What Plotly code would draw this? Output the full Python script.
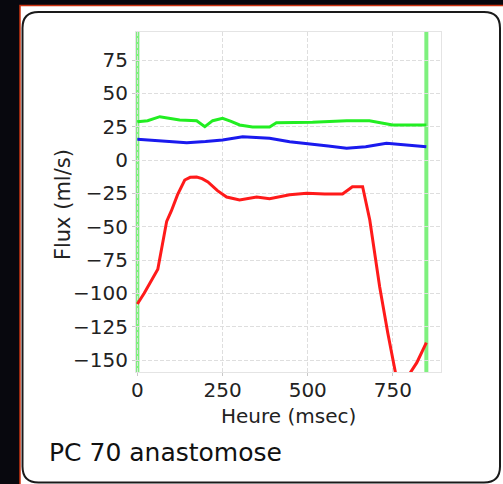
import plotly.graph_objects as go

# ---- data ----
red_t = [0, 20, 60, 86, 100, 118, 139, 155, 174, 190, 207, 235, 262, 300, 350, 388, 447, 497, 550, 602, 631, 661, 682, 711, 735, 760, 792, 820, 848]
red_flux = [-108, -100, -82, -46, -38, -26, -15, -13, -12.8, -14, -16.5, -23, -27.8, -30, -27.8, -29, -26, -25, -25.5, -25.5, -20, -20, -45, -95, -130, -163, -163, -152, -137]

green_t = [0, 30, 66, 100, 124, 174, 198, 221, 250, 275, 300, 338, 388, 408, 447, 514, 614, 681, 749, 848]
green_flux = [28.7, 29.5, 32.5, 31, 30, 29.5, 25, 29.5, 31.3, 29, 26.3, 24.8, 24.8, 28, 28, 28.3, 29.5, 29.5, 26.3, 26.3]

blue_t = [0, 60, 145, 200, 250, 309, 350, 388, 447, 514, 560, 614, 670, 731, 790, 848]
blue_flux = [15.5, 14.5, 13, 13.8, 15, 17.5, 17, 16.3, 13.7, 12, 10.5, 8.8, 10, 12.5, 11, 10]

cycle_markers_t = [0, 848]

x_ticks = [0, 250, 500, 750]
y_ticks = [75, 50, 25, 0, -25, -50, -75, -100, -125, -150]

x_title = "Heure (msec)"
y_title = "Flux (ml/s)"
caption = "PC 70 anastomose"

# ---- figure ----
W, H = 503, 484
ML, MR, MT, MB = 136, 61.5, 32, 112
PW = W - ML - MR
PH = H - MT - MB

def px_x(px):
    return (px - ML) / PW

def px_y(py):
    return (H - MB - py) / PH

fig = go.Figure()

fig.add_trace(go.Scatter(x=green_t, y=green_flux, mode="lines",
                         line=dict(color="#22ee22", width=3), showlegend=False))
fig.add_trace(go.Scatter(x=blue_t, y=blue_flux, mode="lines",
                         line=dict(color="#1a1aee", width=3), showlegend=False))
fig.add_trace(go.Scatter(x=red_t, y=red_flux, mode="lines",
                         line=dict(color="#ff1a1a", width=3), showlegend=False))

# card background: white rect with red edge, then rounded white card with dark border
L0, R0, T0, B0 = 20 - ML, 505 - ML, (H - MB) - 5.5, (H - MB) - 488
shapes = [
    dict(type="rect", xref="paper", yref="paper", xsizemode="pixel", ysizemode="pixel",
         xanchor=0, yanchor=0, x0=L0, x1=R0, y0=B0, y1=T0,
         line=dict(color="#cc3311", width=1.5), fillcolor="white", layer="below"),
]
l, r, t, b, rad = 22.5 - ML, 500 - ML, (H - MB) - 12, (H - MB) - 482.5, 16
path = (f"M {l+rad},{b} L {r-rad},{b} Q {r},{b} {r},{b+rad} L {r},{t-rad} "
        f"Q {r},{t} {r-rad},{t} L {l+rad},{t} Q {l},{t} {l},{t-rad} "
        f"L {l},{b+rad} Q {l},{b} {l+rad},{b} Z")
shapes.append(dict(type="path", xref="paper", yref="paper", xsizemode="pixel", ysizemode="pixel",
                   xanchor=0, yanchor=0, path=path,
                   line=dict(color="#1a1a1a", width=2), fillcolor="white", layer="below"))
fig.update_layout(shapes=shapes)

for t_ in cycle_markers_t:
    fig.add_vline(x=t_, line=dict(color="#7ef07e", width=4), layer="below")

font = "DejaVu Sans"
fig.update_layout(
    width=W, height=H,
    margin=dict(l=ML, r=MR, t=MT, b=MB, pad=0),
    paper_bgcolor="#08080e",
    plot_bgcolor="white",
    showlegend=False,
    font=dict(family=font, color="#222222"),
    xaxis=dict(range=[-4, 891], tickvals=x_ticks, ticks="outside", ticklen=3,
               tickcolor="#c8c8c8", tickfont=dict(size=20, family=font, color="#222222"),
               ticklabelstandoff=-3,
               showgrid=True, gridcolor="#dedede", griddash="4px,2px", gridwidth=1,
               zeroline=False, showline=True, linecolor="#e4e4e4", linewidth=1, mirror=True),
    yaxis=dict(range=[-159, 96], tickvals=y_ticks, ticks="outside", ticklen=3,
               tickcolor="#c8c8c8", tickfont=dict(size=20, family=font, color="#222222"),
               showgrid=True, gridcolor="#dedede", griddash="4px,2px", gridwidth=1,
               zeroline=False, showline=True, linecolor="#e4e4e4", linewidth=1, mirror=True),
    annotations=[
        dict(text=x_title, xref="paper", yref="paper", x=px_x(288.5), y=px_y(416),
             xanchor="center", yanchor="middle", showarrow=False,
             font=dict(size=20, family=font, color="#222222")),
        dict(text=y_title, xref="paper", yref="paper", x=px_x(63), y=px_y(205),
             xanchor="center", yanchor="middle", showarrow=False, textangle=-90,
             font=dict(size=21, family=font, color="#222222")),
        dict(text=caption, xref="paper", yref="paper", x=px_x(47), y=px_y(452),
             xanchor="left", yanchor="middle", showarrow=False,
             font=dict(size=25, family=font, color="#111111")),
    ],
)

fig.write_html("out.html", config={"displayModeBar": False},
               post_script="document.body.style.margin='0';document.body.style.overflow='hidden';")
